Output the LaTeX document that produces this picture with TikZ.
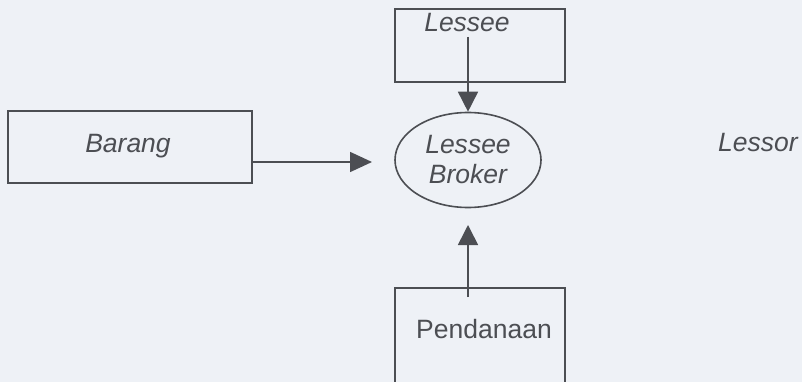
\documentclass[tikz,border=0pt]{standalone}
\usepackage{fontspec}
\setmainfont{Liberation Sans}
\usetikzlibrary{arrows.meta,shapes.geometric}
\definecolor{paper}{HTML}{EEF1F6}
\definecolor{ink}{HTML}{4C4E53}
\tikzset{
  box/.style={draw=ink, line width=1.6pt, rectangle, inner sep=0pt},
  lbl/.style={text=ink, font=\fontsize{26.5}{30}\selectfont, inner sep=0pt},
  flow/.style={draw=ink, line width=1.6pt, -{Triangle[length=20pt,width=20pt]}},
}
\begin{document}
\begin{tikzpicture}[x=1pt,y=-1pt]
  \fill[paper] (0,0) rectangle (802,382);
  \useasboundingbox (0,0) rectangle (802,382);

  % boxes
  \node[box, minimum width=170pt, minimum height=73pt] (lessee) at (480,45.5) {};
  \node[lbl, anchor=base] (lesseeT) at (467,32) {\itshape Lessee};
  \node[box, minimum width=244pt, minimum height=72pt] (barang) at (130,147) {};
  \node[lbl, anchor=base] (barangT) at (128,153) {\itshape Barang};
  \node[box, minimum width=170pt, minimum height=120pt] (dana) at (480,348) {};
  \node[lbl, anchor=base] (danaT) at (484,338) {Pendanaan};

  % central process
  \node[draw=ink, line width=1.6pt, ellipse, inner sep=0pt,
        minimum width=146pt, minimum height=95pt, lbl, align=center]
        (broker) at (468,160) {\itshape Lessee\\\itshape Broker};

  \node[lbl, anchor=base] (lessor) at (758,152) {\itshape Lessor};

  % flows
  \coordinate (s1) at (468,37);
  \draw[flow] (s1) -- (broker.north);
  \coordinate (e2) at (372,162);
  \draw[flow, -{Triangle[length=22pt,width=20pt]}] (barang.east |- e2) -- (e2);
  \coordinate (s3) at (468,297);
  \coordinate (e3) at (468,225);
  \draw[flow] (s3) -- (e3);
\end{tikzpicture}
\end{document}
